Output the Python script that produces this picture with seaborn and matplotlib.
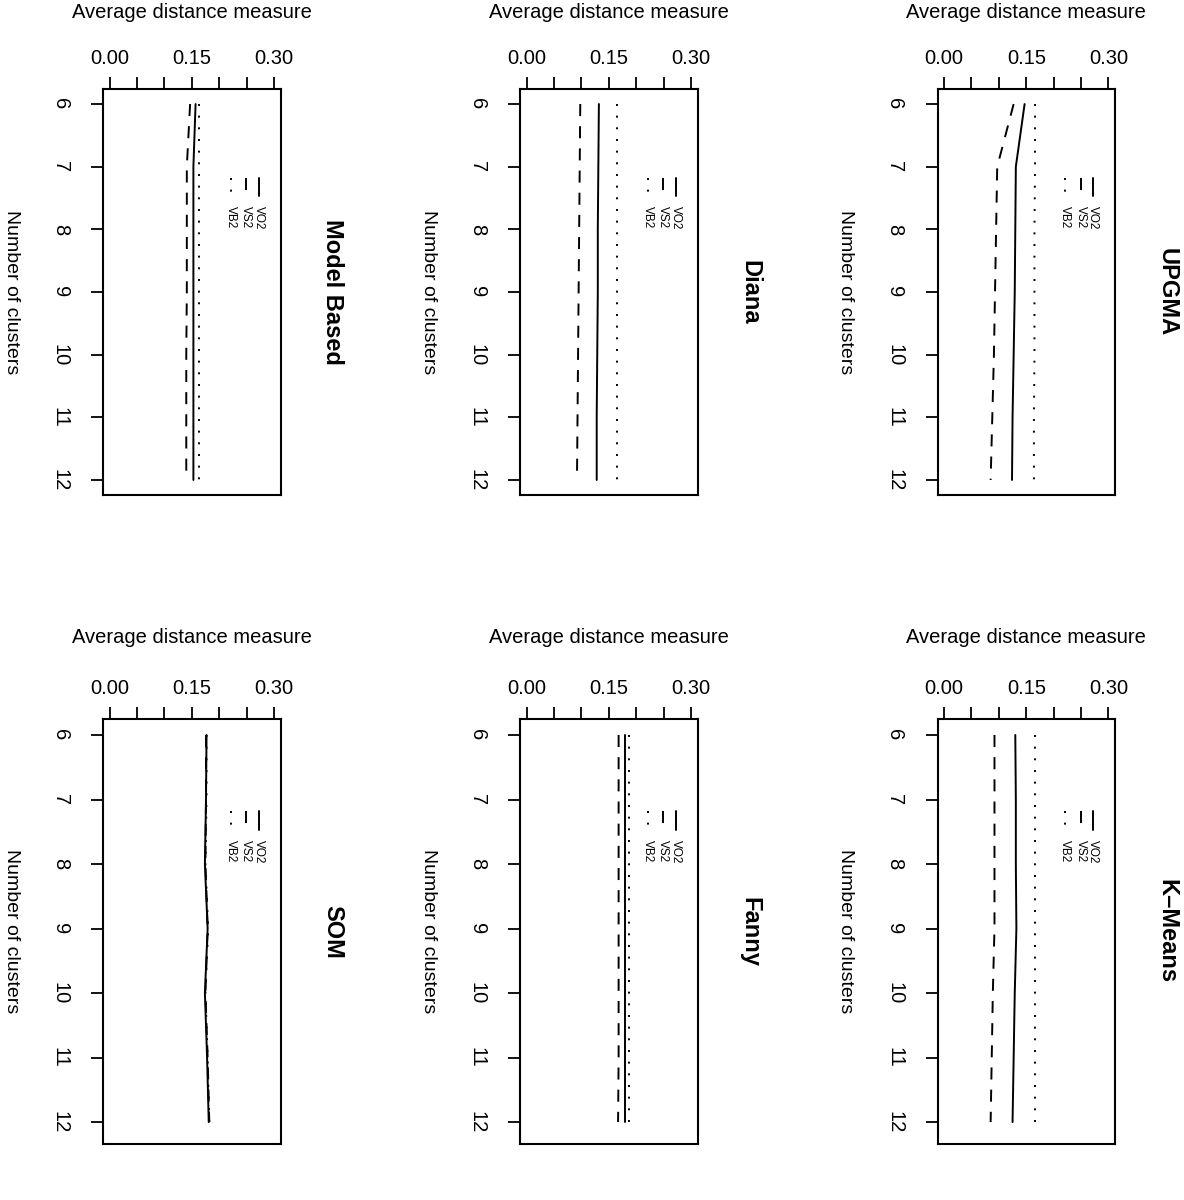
import numpy as np
import pandas as pd
import matplotlib
matplotlib.use("Agg")
import matplotlib.pyplot as plt
import seaborn as sns

# ---------------- data ----------------
clusters = [6, 7, 8, 9, 10, 11, 12]
series_names = ["VO2", "VS2", "VB2"]

model_vo2 = [0.157, 0.153, 0.153, 0.153, 0.153, 0.153, 0.153]
model_vs2 = [0.147, 0.141, 0.141, 0.141, 0.140, 0.140, 0.140]
model_vb2 = [0.164, 0.164, 0.164, 0.164, 0.164, 0.164, 0.164]

diana_vo2 = [0.132, 0.131, 0.130, 0.130, 0.129, 0.128, 0.128]
diana_vs2 = [0.098, 0.097, 0.096, 0.095, 0.094, 0.093, 0.092]
diana_vb2 = [0.165, 0.165, 0.165, 0.165, 0.165, 0.165, 0.165]

upgma_vo2 = [0.147, 0.131, 0.130, 0.129, 0.127, 0.125, 0.124]
upgma_vs2 = [0.127, 0.097, 0.095, 0.093, 0.091, 0.088, 0.085]
upgma_vb2 = [0.166, 0.166, 0.165, 0.165, 0.165, 0.164, 0.164]

som_vo2 = [0.177, 0.176, 0.174, 0.179, 0.174, 0.178, 0.181]
som_vs2 = [0.176, 0.176, 0.175, 0.179, 0.175, 0.179, 0.182]
som_vb2 = [0.177, 0.177, 0.175, 0.180, 0.175, 0.179, 0.182]

fanny_vo2 = [0.179, 0.179, 0.179, 0.179, 0.179, 0.179, 0.179]
fanny_vs2 = [0.168, 0.168, 0.168, 0.168, 0.168, 0.168, 0.167]
fanny_vb2 = [0.187, 0.187, 0.187, 0.187, 0.187, 0.187, 0.187]

kmeans_vo2 = [0.130, 0.131, 0.131, 0.132, 0.129, 0.127, 0.125]
kmeans_vs2 = [0.092, 0.092, 0.092, 0.092, 0.089, 0.087, 0.085]
kmeans_vb2 = [0.166, 0.166, 0.166, 0.166, 0.166, 0.166, 0.166]

titles = ["Model Based", "Diana", "UPGMA", "SOM", "Fanny", "K\u2013Means"]
panel_values = [
    (model_vo2, model_vs2, model_vb2),
    (diana_vo2, diana_vs2, diana_vb2),
    (upgma_vo2, upgma_vs2, upgma_vb2),
    (som_vo2, som_vs2, som_vb2),
    (fanny_vo2, fanny_vs2, fanny_vb2),
    (kmeans_vo2, kmeans_vs2, kmeans_vb2),
]
x_ticks = [0.00, 0.05, 0.10, 0.15, 0.20, 0.25, 0.30]
x_tick_labels = ["0.00", "", "", "0.15", "", "", "0.30"]
y_ticks = clusters
y_tick_labels = [str(c) for c in clusters]

# ---------------- style ----------------
sns.set_style("white")
plt.rcParams["font.family"] = ["Liberation Sans", "DejaVu Sans"]
plt.rcParams["axes.edgecolor"] = "black"
plt.rcParams["text.color"] = "black"
plt.rcParams["axes.labelcolor"] = "black"
plt.rcParams["xtick.color"] = "black"
plt.rcParams["ytick.color"] = "black"

LW = 1.4
dash_map = {"VO2": "", "VS2": (6.2, 5.2), "VB2": (1.0, 5.0)}

W, H = 1184, 1200
fig = plt.figure(figsize=(W / 100, H / 100), dpi=100)

col_left = [103, 520, 937.5]
col_width = 177.5
row_box = [(89, 495), (719, 1144)]
row_ylim = [(12.24, 5.76), (12.34, 5.752)]

for i, (title, vals) in enumerate(zip(titles, panel_values)):
    r, c = divmod(i, 3)
    top, bot = row_box[r]
    ax = fig.add_axes([col_left[c] / W, 1 - bot / H, col_width / W, (bot - top) / H])

    df = pd.DataFrame({
        "k": clusters * 3,
        "value": list(vals[0]) + list(vals[1]) + list(vals[2]),
        "series": sum([[s] * len(clusters) for s in series_names], []),
    })
    sns.lineplot(data=df, x="value", y="k", style="series", style_order=series_names,
                 dashes=dash_map, color="black", linewidth=LW, estimator=None,
                 orient="y", sort=True, legend=False, ax=ax)

    ax.set_xlim(-0.012, 0.312)
    ax.set_ylim(*row_ylim[r])

    ax.xaxis.tick_top()
    ax.xaxis.set_label_position("top")
    ax.set_xticks(x_ticks)
    ax.set_xticklabels(x_tick_labels)
    ax.set_yticks(y_ticks)
    ax.set_yticklabels(y_tick_labels)
    ax.tick_params(axis="x", top=True, bottom=False, direction="out", length=8.3,
                   width=1.3, color="black", labelcolor="black", labelsize=14.5, pad=7)
    ax.tick_params(axis="y", left=True, direction="out", length=9,
                   width=1.3, color="black", labelcolor="black", labelsize=14.5, pad=15)
    for lbl in ax.get_yticklabels():
        lbl.set_rotation(-90)
        lbl.set_va("center")
        lbl.set_ha("right")

    for sp in ax.spines.values():
        sp.set_visible(True)
        sp.set_linewidth(1.5)
        sp.set_color("black")

    ax.set_xlabel("Average distance measure", fontsize=14.5, color="black")
    ax.xaxis.label.set_va("center")
    ax.xaxis.set_label_coords(0.5, 1 + (76 if r == 0 else 81) / (bot - top))

    ax.set_ylabel("Number of clusters", fontsize=14, rotation=-90, color="black")
    ax.yaxis.label.set_va("center")
    ax.yaxis.label.set_ha("center")
    ax.yaxis.set_label_coords(-92 / col_width, 0.5)

    ax.text(1 + 52 / col_width, 0.5, title, transform=ax.transAxes, rotation=-90,
            ha="center", va="center", fontsize=17, fontweight="bold", color="black")

    # legend (rotated, drawn manually, no box)
    leg_x = {"VO2": 0.2726, "VS2": 0.2497, "VB2": 0.221}
    for s in series_names:
        ls = "-" if dash_map[s] == "" else (0, dash_map[s])
        ax.plot([leg_x[s], leg_x[s]], [7.18, 7.47], color="black", linewidth=LW,
                linestyle=ls)
        ax.text(leg_x[s], 7.63, s, rotation=-90, ha="center", va="top",
                fontsize=8.5, color="black")

fig.savefig("out.png", dpi=100, facecolor="white")
